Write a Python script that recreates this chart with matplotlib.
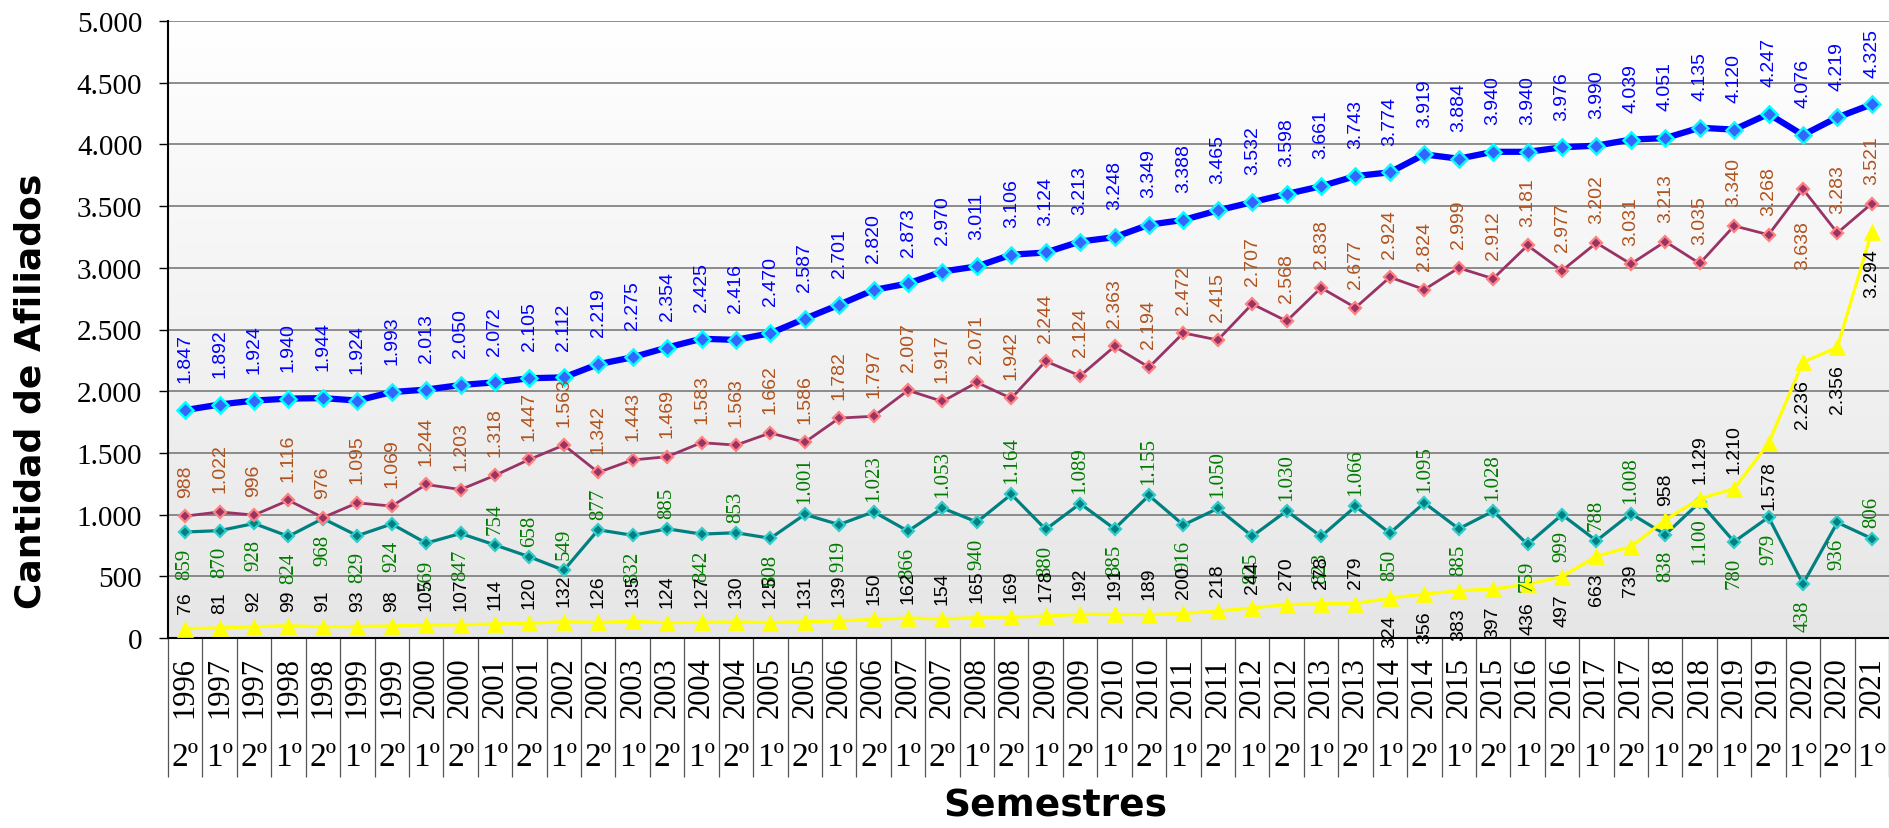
import numpy as np
import matplotlib.pyplot as plt
from matplotlib.colors import LinearSegmentedColormap

# semestres (eje x)
years = ['1996', '1997', '1997', '1998', '1998', '1999', '1999', '2000', '2000', '2001',
         '2001', '2002', '2002', '2003', '2003', '2004', '2004', '2005', '2005', '2006',
         '2006', '2007', '2007', '2008', '2008', '2009', '2009', '2010', '2010', '2011',
         '2011', '2012', '2012', '2013', '2013', '2014', '2014', '2015', '2015', '2016',
         '2016', '2017', '2017', '2018', '2018', '2019', '2019', '2020', '2020', '2021']
semesters = ['2º', '1º'] * 23 + ['2º', '1°', '2°', '1°']

blue_vals = [1847, 1892, 1924, 1940, 1944, 1924, 1993, 2013, 2050, 2072,
             2105, 2112, 2219, 2275, 2354, 2425, 2416, 2470, 2587, 2701,
             2820, 2873, 2970, 3011, 3106, 3124, 3213, 3248, 3349, 3388,
             3465, 3532, 3598, 3661, 3743, 3774, 3919, 3884, 3940, 3940,
             3976, 3990, 4039, 4051, 4135, 4120, 4247, 4076, 4219, 4325]
red_vals = [988, 1022, 996, 1116, 976, 1095, 1069, 1244, 1203, 1318,
            1447, 1563, 1342, 1443, 1469, 1583, 1563, 1662, 1586, 1782,
            1797, 2007, 1917, 2071, 1942, 2244, 2124, 2363, 2194, 2472,
            2415, 2707, 2568, 2838, 2677, 2924, 2824, 2999, 2912, 3181,
            2977, 3202, 3031, 3213, 3035, 3340, 3268, 3638, 3283, 3521]
teal_vals = [859, 870, 928, 824, 968, 829, 924, 769, 847, 754,
             658, 549, 877, 832, 885, 842, 853, 808, 1001, 919,
             1023, 866, 1053, 940, 1164, 880, 1089, 885, 1155, 916,
             1050, 825, 1030, 823, 1066, 850, 1095, 885, 1028, 759,
             999, 788, 1008, 838, 1100, 780, 979, 438, 936, 806]
yellow_vals = [76, 81, 92, 99, 91, 93, 98, 105, 107, 114,
               120, 132, 126, 135, 124, 127, 130, 125, 131, 139,
               150, 162, 154, 165, 169, 178, 192, 191, 189, 200,
               218, 244, 270, 278, 279, 324, 356, 383, 397, 436,
               497, 663, 739, 958, 1129, 1210, 1578, 2236, 2356, 3294]

# which labels go above the point
red_above = [i != 47 for i in range(50)]
teal_above_idx = [9, 10, 11, 12, 14, 16, 18, 20, 22, 24, 26, 28, 30, 32, 34, 36, 38, 41, 42, 49]
yellow_below_idx = [35, 36, 37, 38, 39, 40, 41, 42, 46, 47, 48, 49]


def fmt(v):
    return f"{v:,}".replace(",", ".")


def add_labels(ax, x, vals, above, color, family, size, up, down):
    for xi, v, a in zip(x, vals, above):
        ax.annotate(fmt(v), (xi, v), xytext=(0, up if a else -down), textcoords='offset points',
                    rotation=90, ha='center', va='bottom' if a else 'top',
                    color=color, family=family, fontsize=size, zorder=6)


def main():
    x = np.arange(len(years))
    fig = plt.figure(figsize=(18.9, 8.29), dpi=100)
    ax = fig.add_axes([168 / 1890, 1 - 639 / 829, (1889 - 168) / 1890, (639 - 22) / 829])

    # fondo degradado
    cmap = LinearSegmentedColormap.from_list('bg', ['#e6e6e6', '#ffffff'])
    ax.imshow(np.linspace(0, 1, 256).reshape(-1, 1), extent=[-0.5, 49.5, 0, 5000],
              origin='lower', aspect='auto', cmap=cmap, zorder=-2)

    ax.plot(x, teal_vals, color='#008080', lw=2.3, marker='D', ms=6.5,
            mfc='#008080', mec='#33cccc', mew=1.6, zorder=3)
    ax.plot(x, red_vals, color='#993366', lw=2, marker='D', ms=6.5,
            mfc='#993366', mec='#ff8080', mew=1.6, zorder=3)
    ax.plot(x, yellow_vals, color='#ffff00', lw=2.3, marker='^', ms=11,
            mfc='#ffff00', mec='#ffff00', mew=0.5, zorder=4)
    ax.plot(x, blue_vals, color='#0000ff', lw=4.5, marker='D', ms=8.5,
            mfc='#3366ff', mec='#00ffff', mew=1.8, zorder=5)

    sans = ['Liberation Sans', 'DejaVu Sans']
    serif = ['Liberation Serif', 'DejaVu Serif']
    add_labels(ax, x, blue_vals, [True] * 50, '#0000ff', sans, 14, 20, 20)
    add_labels(ax, x, red_vals, red_above, '#b0531e', sans, 14, 14, 22)
    add_labels(ax, x, teal_vals, [i in teal_above_idx for i in range(50)], '#007a00', serif, 15, 8, 11)
    add_labels(ax, x, yellow_vals, [i not in yellow_below_idx for i in range(50)], 'black', sans, 14, 11, 12)

    ax.set_xlim(-0.5, 49.5)
    ax.set_ylim(0, 5000)
    ax.set_yticks(np.arange(0, 5001, 500))
    ax.set_yticklabels([fmt(v) for v in range(0, 5001, 500)], family=serif, fontsize=21)
    ax.tick_params(axis='y', length=6.5, width=1, pad=12, direction='out')
    ax.set_xticks([])
    ax.yaxis.grid(True, color='#7a7a7a', lw=1.2)
    ax.set_axisbelow(True)
    for s in ['top', 'right']:
        ax.spines[s].set_visible(False)
    ax.spines['left'].set_linewidth(1.5)
    ax.spines['bottom'].set_linewidth(1.5)

    # etiquetas de categorias en dos niveles
    trans = ax.get_xaxis_transform()
    ax.vlines(np.arange(-0.5, 50, 1), -0.2253, 0, transform=trans, clip_on=False,
              color='#555555', lw=0.9)
    for xi, yr, sem in zip(x, years, semesters):
        ax.text(xi, -0.0794, yr, transform=trans, rotation=90, ha='center', va='center',
                family=serif, fontsize=22)
        ax.text(xi, -0.193, sem, transform=trans, ha='center', va='center',
                family=serif, fontsize=24)

    fig.text(31 / 1890, 1 - 391 / 829, 'Cantidad de Afiliados', rotation=90, ha='center',
             va='center', fontsize=26, weight='bold')
    fig.text(1055 / 1890, 1 - 807 / 829, 'Semestres', ha='center', va='center',
             fontsize=27, weight='bold')

    fig.savefig('out.png', dpi=100)


if __name__ == '__main__':
    main()
